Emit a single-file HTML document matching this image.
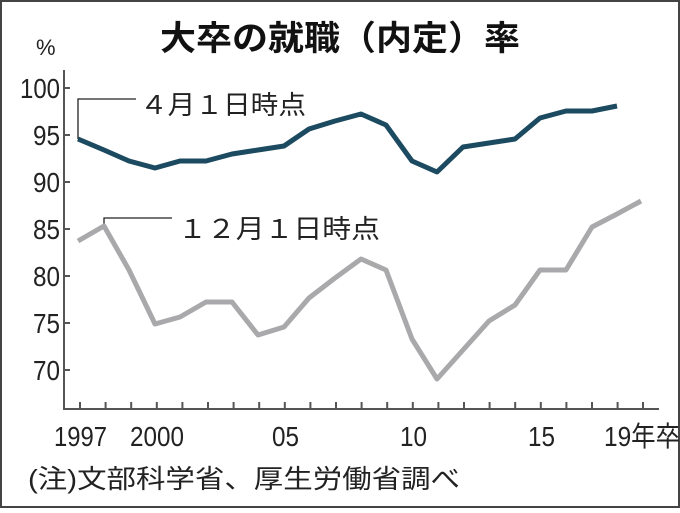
<!DOCTYPE html>
<html><head><meta charset="utf-8"><style>
body{margin:0;background:#fff}
svg text{font-family:"Liberation Sans","Noto Sans CJK JP",sans-serif}
</style></head><body>
<svg width="680" height="508" viewBox="0 0 680 508" xmlns="http://www.w3.org/2000/svg">
<rect x="1" y="1" width="678" height="506" fill="#fff" stroke="#444" stroke-width="2"/>
<text x="160" y="50" font-size="34" font-weight="bold" fill="#111" textLength="360" lengthAdjust="spacingAndGlyphs">大卒の就職（内定）率</text>
<text x="36" y="55" font-size="22" fill="#222">%</text>
<g font-size="28" fill="#222" lengthAdjust="spacingAndGlyphs">
<text x="20" y="98" textLength="40" lengthAdjust="spacingAndGlyphs">100</text>
<text x="33" y="145" textLength="27" lengthAdjust="spacingAndGlyphs">95</text>
<text x="33" y="192" textLength="27" lengthAdjust="spacingAndGlyphs">90</text>
<text x="33" y="239" textLength="27" lengthAdjust="spacingAndGlyphs">85</text>
<text x="33" y="286" textLength="27" lengthAdjust="spacingAndGlyphs">80</text>
<text x="33" y="333" textLength="27" lengthAdjust="spacingAndGlyphs">75</text>
<text x="33" y="380" textLength="27" lengthAdjust="spacingAndGlyphs">70</text>
</g>
<g stroke="#555" stroke-width="2" fill="none">
<path d="M64 70 V409 H659"/>
<path d="M64 88h6M64 135h6M64 182h6M64 229h6M64 276h6M64 323h6M64 370h6"/>
<path d="M80 409v-7M105.6 409v-7M131.2 409v-7M156.8 409v-7M182.4 409v-7M208 409v-7M233.6 409v-7M259.2 409v-7M284.8 409v-7M310.4 409v-7M336 409v-7M361.6 409v-7M387.2 409v-7M412.8 409v-7M438.4 409v-7M464 409v-7M489.6 409v-7M515.2 409v-7M540.8 409v-7M566.4 409v-7M592 409v-7M617.6 409v-7M643 409v-7"/>
</g>
<g font-size="28" fill="#222">
<text x="54" y="446" textLength="53" lengthAdjust="spacingAndGlyphs">1997</text>
<text x="130" y="446" textLength="54" lengthAdjust="spacingAndGlyphs">2000</text>
<text x="272" y="446" textLength="27" lengthAdjust="spacingAndGlyphs">05</text>
<text x="400" y="446" textLength="27" lengthAdjust="spacingAndGlyphs">10</text>
<text x="528" y="446" textLength="27" lengthAdjust="spacingAndGlyphs">15</text>
<text x="604" y="446" textLength="76" lengthAdjust="spacingAndGlyphs">19年卒</text>
</g>
<text x="28" y="488" font-size="26" fill="#222" textLength="432" lengthAdjust="spacingAndGlyphs">(注)文部科学省、厚生労働省調べ</text>
<path d="M78 139V99h58" stroke="#222" stroke-width="1.3" fill="none"/>
<path d="M104 224V218h68" stroke="#222" stroke-width="1.3" fill="none"/>
<text x="140" y="114" font-size="26" fill="#222" textLength="166" lengthAdjust="spacingAndGlyphs">４月１日時点</text>
<text x="178" y="238" font-size="26" fill="#222" textLength="202" lengthAdjust="spacingAndGlyphs">１２月１日時点</text>
<polyline fill="none" stroke="#a9a9ab" stroke-width="5" stroke-linejoin="round" points="78,241 104,226 129,270 155,324 180,317 206,302 232,302 258,335 284,327 309,298 335,278 361,259 386,270 412,339 437,379 463,350 489,321 515,305 540,270 566,270 592,227 617,214 641,201"/>
<polyline fill="none" stroke="#1c4a60" stroke-width="5" stroke-linejoin="round" points="78,139 104,150 129,161 155,168 180,161 206,161 232,154 258,150 284,146 309,129 335,121 361,114 386,125 412,161 437,172 463,147 489,143 515,139 540,118 566,111 592,111 617,106"/>
</svg>
</body></html>
